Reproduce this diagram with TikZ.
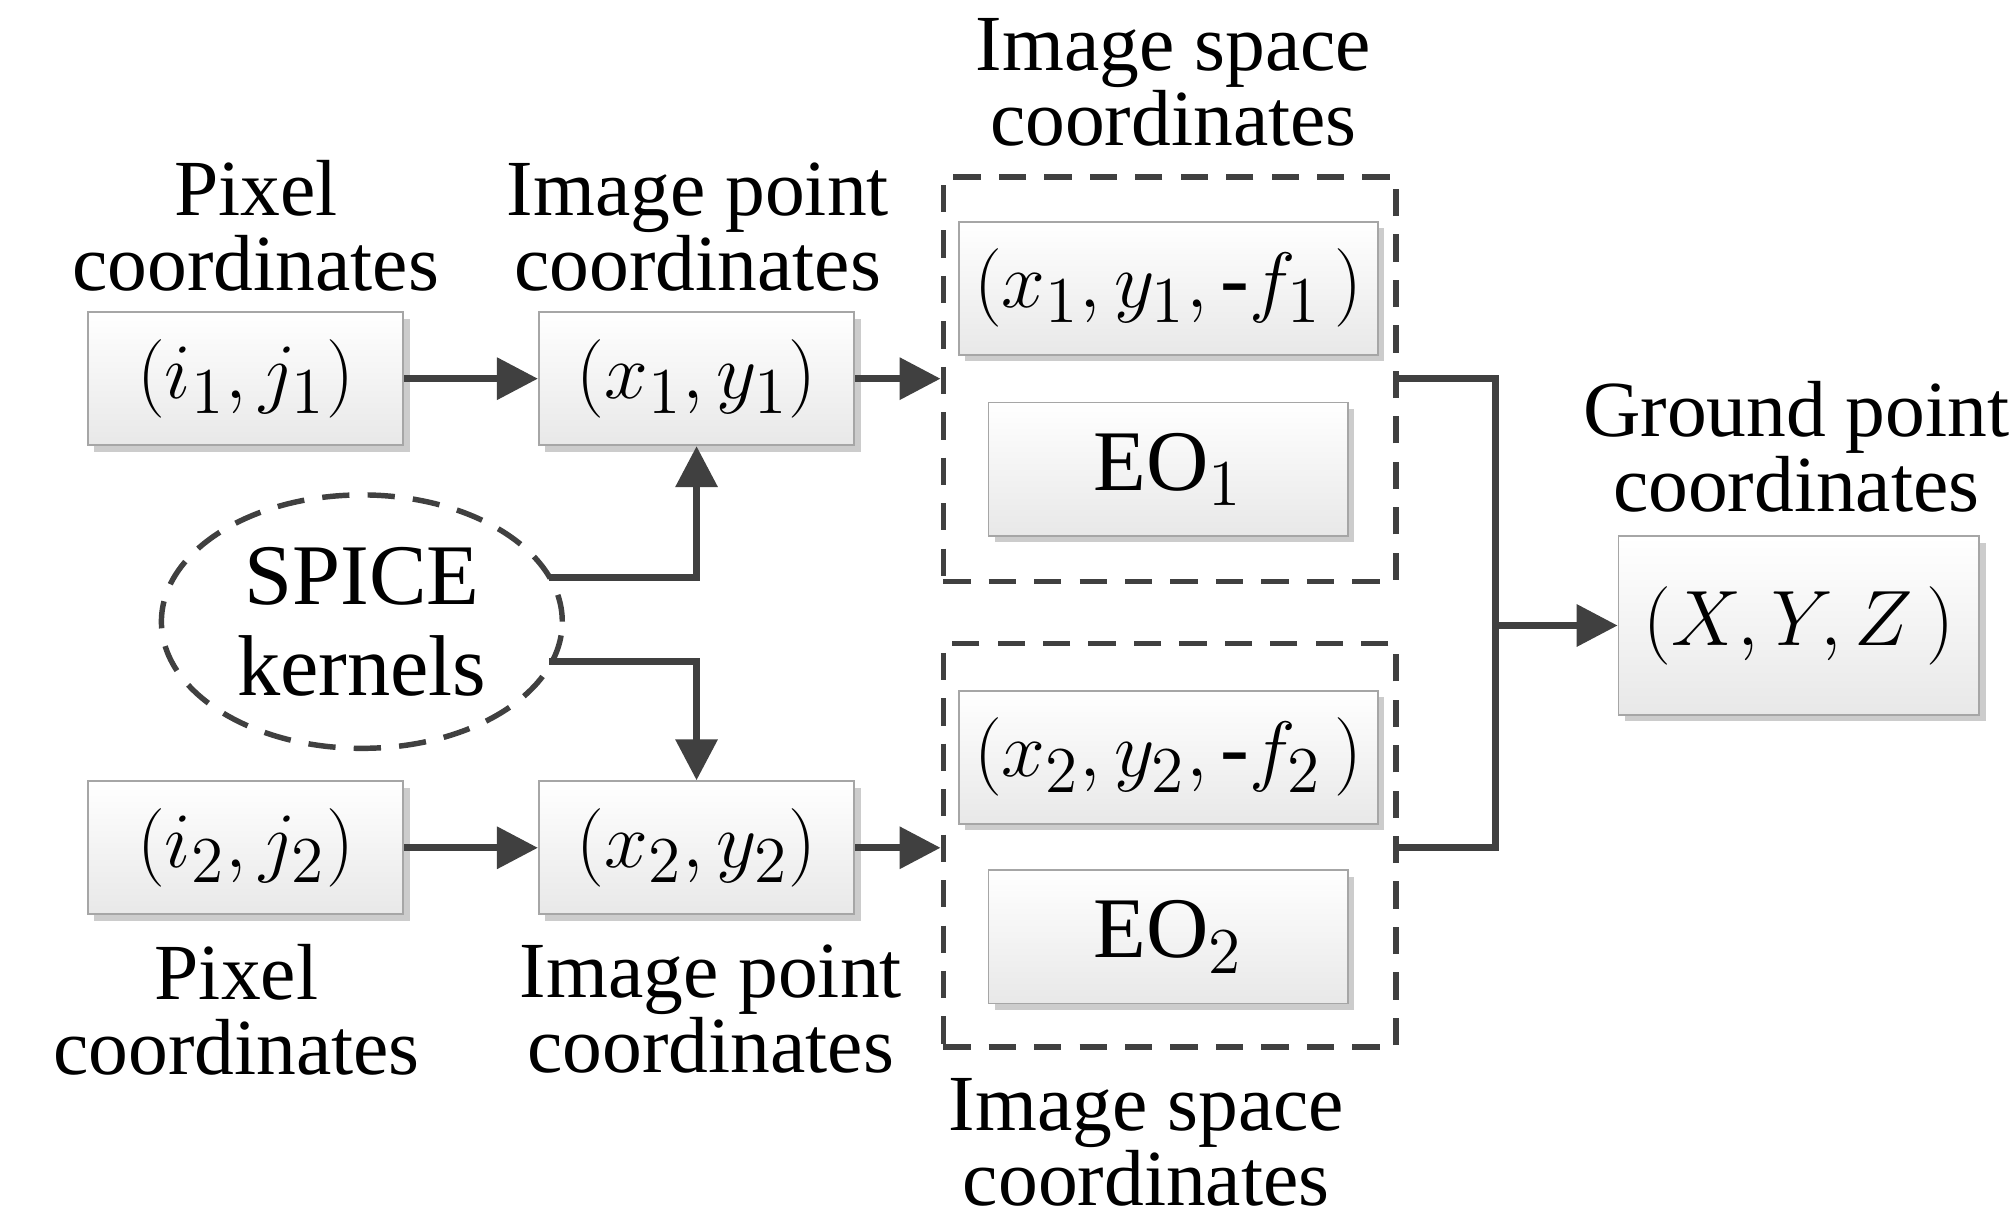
\documentclass[tikz,border=0pt]{standalone}
\usepackage{fontspec}
\setmainfont{Liberation Serif}
\usetikzlibrary{arrows.meta,shadows,shapes.geometric}
\begin{document}
\begin{tikzpicture}[x=0.01cm,y=-0.01cm,
  box/.style={draw=gray!70,top color=white,bottom color=gray!18,minimum width=2.44cm,minimum height=1.03cm,drop shadow={shadow xshift=0.05cm,shadow yshift=-0.05cm,fill=gray!40,opacity=1},font=\fontsize{19}{19}\selectfont},
  ibox/.style={box,minimum width=2.78cm},
  lbl/.style={align=center,font=\fontsize{17.5}{16.5}\selectfont},
  dbox/.style={draw=black!75,dashed,line width=1.2pt,dash pattern=on 6pt off 4pt},
  con/.style={draw=black!75,line width=1.5pt},
  arr/.style={con,-{Triangle[length=9pt,width=9pt]}}]
\useasboundingbox (0,0) rectangle (1560,953);
\node[dbox,minimum width=3.5cm,minimum height=3.13cm] (d1) at (905,293.5) {};
\node[dbox,minimum width=3.5cm,minimum height=3.12cm] (d2) at (905,654) {};
\node[box] (p1) at (190,293) {$(i_1, j_1)$};
\node[box] (m1) at (539,293) {$(x_1, y_1)$};
\node[box] (p2) at (190,656) {$(i_2, j_2)$};
\node[box] (m2) at (539,656) {$(x_2, y_2)$};
\node[ibox] (s1) at (904,223) {$(x_1, y_1, \mbox{-}f_1\,)$};
\node[ibox] (e1) at (904,363) {EO$_1$};
\node[ibox] (s2) at (904,586) {$(x_2, y_2, \mbox{-}f_2\,)$};
\node[ibox] (e2) at (904,725) {EO$_2$};
\node[box,minimum width=2.79cm,minimum height=1.38cm] (g) at (1392,484) {$(X, Y, Z\,)$};
\node[ellipse,dbox,minimum width=3.1cm,minimum height=1.5cm,align=center,font=\fontsize{19}{20}\selectfont] (sp) at (280,481) {SPICE\\kernels};
\node[lbl] (lp1) at (198,175) {Pixel\\coordinates};
\node[lbl] (lm1) at (540,176) {Image point\\coordinates};
\node[lbl] (ls1) at (908,64) {Image space\\coordinates};
\node[lbl] (lp2) at (183,781) {Pixel\\coordinates};
\node[lbl] (lm2) at (550,781) {Image point\\coordinates};
\node[lbl] (ls2) at (887,884) {Image space\\coordinates};
\node[lbl] (lg) at (1390,346) {Ground point\\coordinates};
\coordinate (j) at (1157,484);
\draw[arr] (p1) -- (m1);
\draw[arr] (p2) -- (m2);
\draw[arr] (m1) -- (m1 -| d1.west);
\draw[arr] (m2) -- (m2 -| d2.west);
\draw[arr] (425,447) -| (m1.south);
\draw[arr] (425,512) -| (m2.north);
\draw[con] (d1.east |- m1) -| (j) |- (d2.east |- m2);
\draw[arr] (j) -- (g.west);
\end{tikzpicture}
\end{document}
